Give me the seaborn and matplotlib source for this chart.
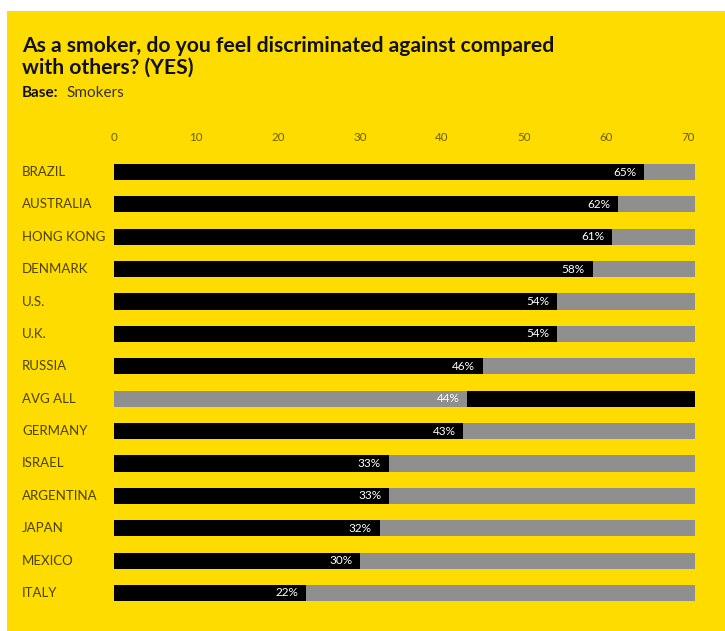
import matplotlib
matplotlib.use("Agg")
import matplotlib.pyplot as plt
import matplotlib.transforms as mtransforms
from matplotlib.patches import Rectangle
import seaborn as sns
import pandas as pd

countries = ["BRAZIL", "AUSTRALIA", "HONG KONG", "DENMARK", "U.S.", "U.K.", "RUSSIA",
             "AVG ALL", "GERMANY", "ISRAEL", "ARGENTINA", "JAPAN", "MEXICO", "ITALY"]
values = [64.7, 61.5, 60.8, 58.4, 54.1, 54.1, 45.0, 43.1, 42.6, 33.5, 33.6, 32.4, 30.0, 23.4]
pct_labels = ["65%", "62%", "61%", "58%", "54%", "54%", "46%", "44%", "43%", "33%", "33%",
              "32%", "30%", "22%"]
total = 70.9
xticks = [0, 10, 20, 30, 40, 50, 60, 70]
title = "As a smoker, do you feel discriminated against compared\nwith others? (YES)"

YELLOW = "#FFDC00"
GRAY = "#8F8F8F"
BLACK = "#000000"
LABEL_C = "#4a4200"
TICK_C = "#6a5f00"

sns.set_theme(style="white")
plt.rcParams["font.family"] = ["Lato", "DejaVu Sans"]

W, H = 725, 631
fig = plt.figure(figsize=(W / 100, H / 100), dpi=100)
fig.patch.set_facecolor("white")
fig.patches.append(Rectangle((7 / W, 0), 1 - 7 / W, 1 - 11 / H, transform=fig.transFigure,
                             facecolor=YELLOW, edgecolor="none", zorder=-10))

left, right = 114, 695
top_c, bot_c = 172, 593
step = (bot_c - top_c) / (len(countries) - 1)
ax_top = top_c - step / 2
ax_bot = bot_c + step / 2
ax = fig.add_axes([left / W, 1 - ax_bot / H, (right - left) / W, (ax_bot - ax_top) / H])
ax.set_facecolor("none")
ax.set_zorder(5)

df = pd.DataFrame({"country": countries, "value": values, "total": [total] * len(countries)})
is_avg = [c == "AVG ALL" for c in countries]
back_pal = [BLACK if a else GRAY for a in is_avg]
front_pal = [GRAY if a else BLACK for a in is_avg]

sns.barplot(data=df, x="total", y="country", hue="country", palette=back_pal,
            legend=False, width=0.5, ax=ax, saturation=1, edgecolor="none")
sns.barplot(data=df, x="value", y="country", hue="country", palette=front_pal,
            legend=False, width=0.5, ax=ax, saturation=1, edgecolor="none")

ax.set_xlim(0, total)
ax.set_ylim(len(countries) - 0.5, -0.5)
ax.set_xlabel("")
ax.set_ylabel("")
ax.set_yticks([])
ax.xaxis.tick_top()
ax.set_xticks(xticks)
ax.set_xticklabels([str(t) for t in xticks], fontsize=8.3, color=TICK_C)
ax.tick_params(axis="x", length=0, pad=9)
for s in ax.spines.values():
    s.set_visible(False)

for i, (v, lab) in enumerate(zip(values, pct_labels)):
    ax.annotate(lab, xy=(v, i), xytext=(-5.5, 0), textcoords="offset points",
                ha="right", va="center", fontsize=8.5, color="white")

trans = mtransforms.blended_transform_factory(fig.transFigure, ax.transData)
for i, c in enumerate(countries):
    ax.text(22 / W, i, c, transform=trans, ha="left", va="center", fontsize=9.5,
            color=LABEL_C, clip_on=False)

fig.text(22 / W, 1 - 57 / H, title, ha="left", va="center", fontsize=15.2,
         fontweight="bold", color="#111111", linespacing=1.12)
fig.text(22 / W, 1 - 93 / H, "Base:", ha="left", va="center", fontsize=11,
         fontweight="bold", color="#111111")
fig.text(66 / W, 1 - 93 / H, "Smokers", ha="left", va="center", fontsize=11,
         color="#333333")

fig.savefig("out.png", dpi=100)
